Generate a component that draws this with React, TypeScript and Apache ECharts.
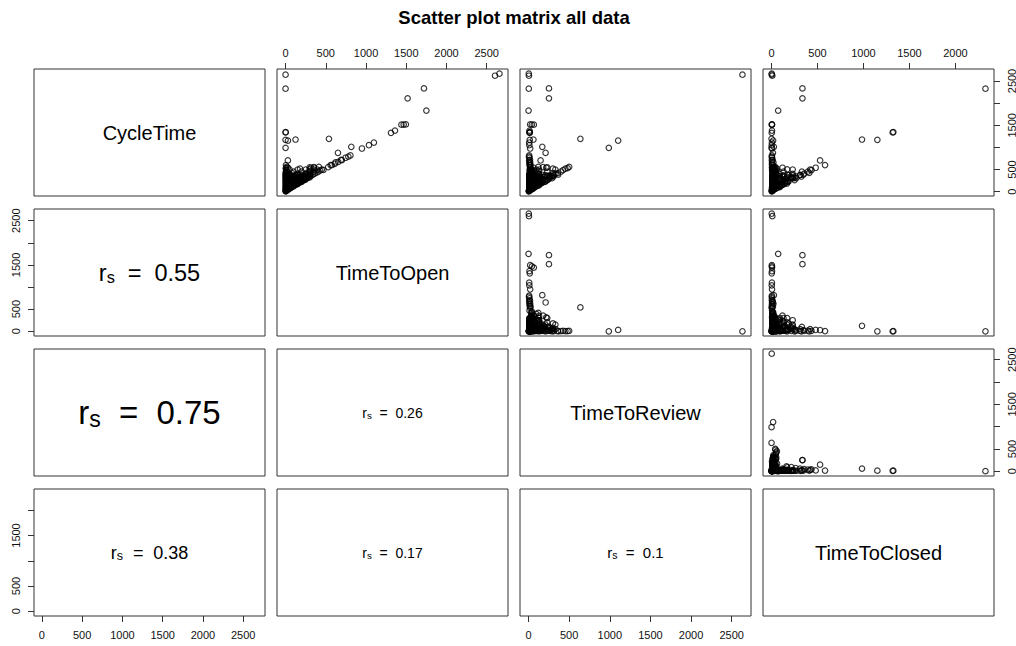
import { useEffect, useRef } from "react";
import * as echarts from "echarts";

// Variables of the matrix, in row/column order.
const variables = ["CycleTime", "TimeToOpen", "TimeToReview", "TimeToClosed"];

// Each record: [CycleTime, TimeToOpen, TimeToReview, TimeToClosed]
const longRecords = [
  [2619, 2603, 5, 8],
  [2665, 2658, 3, 2],
  [2642, 0, 2633, 2],
  [2333, 1720, 251, 336],
  [2326, 0, 3, 2327],
  [2108, 1517, 251, 336],
  [1831, 1750, 0, 72],
  [1512, 1440, 65, 5],
  [1516, 1468, 41, 4],
  [1520, 1495, 20, 3],
  [1329, 1310, 15, 2],
  [1380, 1360, 12, 5],
  [1338, 0, 10, 1318],
  [1346, 2, 15, 1325],
  [1194, 539, 638, 0],
  [1178, 124, 60, 984],
  [1171, 0, 15, 1151],
  [990, 0, 988, 0],
  [1155, 30, 1103, 17],
  [1110, 1098, 8, 4],
  [1050, 1036, 10, 2],
  [975, 949, 20, 5],
  [1013, 817, 169, 25],
  [878, 651, 210, 15],
  [705, 29, 148, 528],
  [600, 5, 16, 582],
  [530, 5, 481, 43],
  [540, 317, 218, 5],
  [540, 355, 60, 119],
  [500, 394, 95, 8],
  [502, 300, 30, 170],
  [518, 180, 300, 20],
];

const openChain = [
  [556, 352, 180, 20],
  [558, 414, 120, 20],
  [490, 470, 12, 6],
  [556, 530, 18, 6],
  [598, 575, 15, 6],
  [630, 612, 12, 4],
  [672, 655, 10, 6],
  [712, 700, 8, 3],
  [790, 780, 5, 3],
  [766, 746, 12, 5],
  [818, 806, 8, 4],
];

const reviewChain = [
  [318, 8, 262, 45],
  [370, 5, 312, 50],
  [418, 12, 360, 42],
  [455, 6, 398, 48],
  [488, 10, 425, 50],
  [518, 4, 453, 58],
];

const closedChain = [
  [293, 20, 110, 163],
  [318, 8, 95, 215],
  [345, 10, 73, 262],
  [380, 12, 58, 310],
  [410, 8, 47, 355],
  [450, 15, 40, 395],
  [486, 10, 42, 434],
];

const openHeavy = [
  [18, 10, 5, 3],
  [40, 28, 8, 4],
  [62, 45, 10, 6],
  [85, 60, 18, 5],
  [105, 78, 20, 6],
  [128, 95, 25, 8],
  [150, 118, 22, 10],
  [170, 140, 18, 12],
  [195, 160, 25, 10],
  [215, 182, 20, 12],
  [240, 205, 25, 10],
  [262, 228, 22, 12],
  [290, 250, 30, 10],
  [310, 272, 28, 10],
  [338, 295, 30, 12],
  [360, 318, 32, 10],
  [385, 340, 35, 10],
  [410, 362, 38, 10],
  [432, 385, 36, 11],
  [455, 408, 35, 12],
  [478, 430, 38, 10],
  [500, 450, 40, 10],
  [160, 60, 70, 30],
  [230, 90, 100, 40],
  [300, 120, 140, 40],
  [380, 150, 170, 60],
  [260, 180, 50, 30],
  [340, 220, 80, 40],
  [420, 260, 110, 50],
  [470, 310, 120, 40],
  [390, 300, 60, 30],
  [450, 350, 70, 30],
];

const reviewHeavy = [
  [22, 3, 15, 4],
  [45, 5, 32, 8],
  [68, 8, 50, 10],
  [92, 6, 72, 14],
  [118, 10, 95, 13],
  [140, 12, 115, 13],
  [165, 15, 135, 15],
  [190, 10, 160, 20],
  [215, 12, 185, 18],
  [240, 14, 210, 16],
  [265, 8, 235, 22],
  [292, 15, 255, 22],
  [200, 40, 120, 40],
  [280, 60, 180, 40],
  [360, 30, 280, 50],
  [420, 80, 300, 40],
  [330, 90, 200, 40],
  [250, 70, 140, 40],
];

const closedHeavy = [
  [20, 4, 6, 10],
  [42, 6, 10, 26],
  [66, 8, 12, 46],
  [90, 10, 15, 65],
  [115, 8, 20, 87],
  [140, 10, 22, 108],
  [165, 12, 25, 128],
  [190, 14, 28, 148],
  [220, 60, 40, 120],
  [300, 40, 90, 170],
  [260, 100, 30, 130],
  [200, 80, 60, 60],
];

const mixedSmall = [
  [30, 10, 10, 10],
  [55, 20, 25, 10],
  [75, 30, 20, 25],
  [100, 40, 35, 25],
  [120, 50, 30, 40],
  [145, 45, 60, 40],
  [170, 70, 50, 50],
  [12, 4, 4, 4],
  [8, 2, 3, 3],
  [35, 15, 12, 8],
  [50, 30, 12, 8],
  [65, 12, 40, 13],
  [80, 15, 15, 50],
  [95, 70, 15, 10],
  [110, 20, 75, 15],
  [125, 15, 20, 90],
  [135, 100, 20, 15],
  [150, 20, 110, 20],
  [160, 15, 25, 120],
  [175, 130, 25, 20],
  [185, 25, 140, 20],
  [200, 20, 30, 150],
  [210, 150, 30, 30],
  [225, 30, 170, 25],
  [235, 25, 30, 180],
];

const wedgeFill = [
  [200, 50, 140, 10],
  [300, 50, 20, 230],
  [400, 50, 330, 20],
  [500, 50, 30, 420],
  [250, 100, 20, 130],
  [350, 100, 230, 20],
  [450, 100, 20, 330],
  [300, 150, 130, 20],
  [400, 150, 20, 230],
  [500, 150, 330, 20],
  [350, 200, 20, 130],
  [450, 200, 230, 20],
  [400, 250, 130, 20],
  [500, 250, 20, 230],
  [450, 300, 20, 130],
  [550, 300, 230, 20],
  [500, 350, 130, 20],
  [560, 12, 500, 40],
  [540, 30, 20, 480],
  [600, 560, 25, 15],
  [660, 620, 20, 20],
  [720, 690, 18, 12],
];

// Short pull requests that make up the dense mass near the origin.
const coreFill = [
  [62, 0, 50, 12], [104, 0, 14, 90], [143, 0, 128, 15], [183, 0, 16, 167],
  [224, 0, 206, 18], [262, 0, 12, 250], [305, 0, 290, 15], [342, 0, 18, 324],
  [384, 0, 364, 20], [424, 0, 14, 410],
  [66, 25, 10, 31], [107, 25, 70, 12], [146, 25, 15, 106], [187, 25, 150, 12],
  [226, 25, 18, 183], [266, 25, 228, 13], [305, 25, 12, 268], [347, 25, 306, 16],
  [386, 25, 14, 347],
  [72, 50, 12, 10], [112, 50, 48, 14], [152, 50, 12, 90], [190, 50, 126, 14],
  [232, 50, 16, 166], [272, 50, 208, 14], [310, 50, 12, 248], [352, 50, 288, 14],
  [372, 50, 10, 312],
  [116, 75, 28, 13], [155, 75, 12, 68], [196, 75, 108, 13], [236, 75, 14, 147],
  [275, 75, 186, 14], [316, 75, 12, 229], [356, 75, 266, 15],
  [122, 100, 12, 10], [162, 100, 10, 52], [200, 100, 86, 14], [240, 100, 12, 128],
  [282, 100, 168, 14], [320, 100, 10, 210], [362, 100, 248, 14],
  [166, 125, 28, 13], [205, 125, 12, 68], [246, 125, 108, 13], [285, 125, 14, 146],
  [326, 125, 188, 13], [366, 125, 12, 229],
  [172, 150, 12, 10], [212, 150, 48, 14], [250, 150, 12, 88], [292, 150, 128, 14],
  [332, 150, 14, 168], [372, 150, 208, 14],
  [216, 175, 12, 29], [256, 175, 68, 13], [296, 175, 14, 107], [336, 175, 148, 13],
  [376, 175, 12, 189],
  [222, 200, 12, 10], [262, 200, 48, 14], [300, 200, 12, 88], [342, 200, 128, 14],
  [382, 200, 12, 170],
  [266, 225, 28, 13], [306, 225, 12, 69], [346, 225, 108, 13], [366, 225, 12, 129],
  [272, 250, 12, 10], [312, 250, 48, 14], [352, 250, 12, 90], [392, 250, 128, 14],
  [316, 275, 28, 13], [356, 275, 12, 69], [376, 275, 88, 13],
  [322, 300, 12, 10], [362, 300, 48, 14], [402, 300, 12, 90],
];

// Spearman correlations shown in the lower panels.
const corrRows = [1, 2, 2, 3, 3, 3];
const corrCols = [0, 0, 1, 0, 1, 2];
const corrValues = [0.55, 0.75, 0.26, 0.38, 0.17, 0.1];

// Axis ticks and the rotated side labels that are printed.
const tickValues = [0, 500, 1000, 1500, 2000, 2500];
const sideLabelValues = [0, 500, 1500, 2500];

const chartTitle = "Scatter plot matrix all data";

// Layout
const PANEL_X = [34, 277, 520, 763];
const PANEL_Y = [69, 209, 349, 489];
const PANEL_W = 231;
const PANEL_H = 127;
const CORR_FONT = [23.5, 33, 14, 18, 14, 15];
const FONT = "'Liberation Sans', Arial, Helvetica, sans-serif";
const INK = "#111";
const FRAME = "#333";

function buildOption() {
  const records = [
    ...longRecords,
    ...openChain,
    ...reviewChain,
    ...closedChain,
    ...openHeavy,
    ...reviewHeavy,
    ...closedHeavy,
    ...mixedSmall,
    ...wedgeFill,
    ...coreFill,
  ];
  const columns = variables.map((_, k) => records.map((r) => r[k]));
  const ranges = columns.map((col) => {
    const lo = Math.min(...col);
    const hi = Math.max(...col);
    const pad = (hi - lo) * 0.04;
    return [lo - pad, hi + pad];
  });

  const grids: any[] = [];
  const xAxes: any[] = [];
  const yAxes: any[] = [];
  const series: any[] = [];

  for (let i = 0; i < 4; i++) {
    for (let j = 0; j < 4; j++) {
      const g = i * 4 + j;
      grids.push({
        left: PANEL_X[j],
        top: PANEL_Y[i],
        width: PANEL_W,
        height: PANEL_H,
        show: true,
        borderColor: FRAME,
        borderWidth: 1,
        backgroundColor: "transparent",
        containLabel: false,
        outerBoundsMode: "none",
      });
      const xr = ranges[j];
      const yr = ranges[i];
      const showX = (i === 0 && j % 2 === 1) || (i === 3 && j % 2 === 0);
      const showY = (j === 0 && i % 2 === 1) || (j === 3 && i % 2 === 0);
      const xTicks = tickValues.filter((v) => v <= xr[1]);
      const yTicks = tickValues.filter((v) => v <= yr[1]);
      xAxes.push({
        gridIndex: g,
        type: "value",
        min: xr[0],
        max: xr[1],
        show: showX,
        position: i === 0 ? "top" : "bottom",
        axisLine: { show: false, onZero: false },
        splitLine: { show: false },
        axisTick: {
          show: true,
          inside: false,
          length: 6,
          lineStyle: { color: FRAME, width: 1 },
          customValues: xTicks,
        },
        axisLabel: {
          show: true,
          margin: i === 0 ? 11 : 13,
          fontSize: 11,
          fontFamily: FONT,
          color: INK,
          customValues: xTicks,
          formatter: (v: number) => String(v),
        },
      });
      yAxes.push({
        gridIndex: g,
        type: "value",
        min: yr[0],
        max: yr[1],
        show: showY,
        position: j === 0 ? "left" : "right",
        axisLine: { show: false, onZero: false },
        splitLine: { show: false },
        axisTick: {
          show: true,
          inside: false,
          length: 6,
          lineStyle: { color: FRAME, width: 1 },
          customValues: yTicks,
        },
        axisLabel: {
          show: true,
          rotate: 90,
          margin: j === 0 ? 13 : 12,
          fontSize: 11,
          fontFamily: FONT,
          color: INK,
          customValues: yTicks,
          formatter: (v: number) => (sideLabelValues.includes(v) ? String(v) : ""),
        },
      });
      if (j > i) {
        series.push({
          type: "scatter",
          xAxisIndex: g,
          yAxisIndex: g,
          data: records.map((r) => [r[j], r[i]]),
          symbol: "circle",
          symbolSize: 5.5,
          itemStyle: { color: "transparent", borderColor: "#000", borderWidth: 1.15 },
          silent: true,
          emphasis: { disabled: true },
        });
      }
    }
  }

  const graphics: any[] = [
    {
      type: "text",
      x: (PANEL_X[0] + PANEL_X[3] + PANEL_W) / 2,
      y: 17,
      style: {
        text: chartTitle,
        fill: "#000",
        fontSize: 18.5,
        fontWeight: "bold",
        fontFamily: FONT,
        align: "center",
        verticalAlign: "middle",
      },
    },
  ];
  variables.forEach((name, k) => {
    graphics.push({
      type: "text",
      x: PANEL_X[k] + PANEL_W / 2,
      y: PANEL_Y[k] + PANEL_H / 2,
      style: {
        text: name,
        fill: "#000",
        fontSize: 20,
        fontFamily: FONT,
        align: "center",
        verticalAlign: "middle",
      },
    });
  });
  corrValues.forEach((r, k) => {
    const F = CORR_FONT[k];
    graphics.push({
      type: "text",
      x: PANEL_X[corrCols[k]] + PANEL_W / 2,
      y: PANEL_Y[corrRows[k]] + PANEL_H / 2,
      style: {
        text: `{r|r}{s|s}{e|=}{v|${r}}`,
        align: "center",
        verticalAlign: "middle",
        rich: {
          r: { fontSize: F, lineHeight: F * 1.1, fontFamily: FONT, fill: "#000" },
          s: {
            fontSize: F * 0.7,
            lineHeight: F * 0.7,
            verticalAlign: "bottom",
            fontFamily: FONT,
            fill: "#000",
          },
          e: {
            fontSize: F,
            lineHeight: F * 1.1,
            fontFamily: FONT,
            fill: "#000",
            padding: [0, F * 0.55, 0, F * 0.55],
          },
          v: { fontSize: F, lineHeight: F * 1.1, fontFamily: FONT, fill: "#000" },
        },
      },
    });
  });

  return {
    animation: false,
    backgroundColor: "#fff",
    grid: grids,
    xAxis: xAxes,
    yAxis: yAxes,
    series,
    graphic: graphics,
  };
}

export default function App() {
  const ref = useRef<HTMLDivElement>(null);
  useEffect(() => {
    if (!ref.current) return;
    const chart = echarts.init(ref.current, undefined, { renderer: "svg" });
    chart.setOption(buildOption() as any);
    return () => chart.dispose();
  }, []);
  return (
    <div
      ref={ref}
      style={{ position: "absolute", left: 0, top: 0, width: 1016, height: 646 }}
    />
  );
}
